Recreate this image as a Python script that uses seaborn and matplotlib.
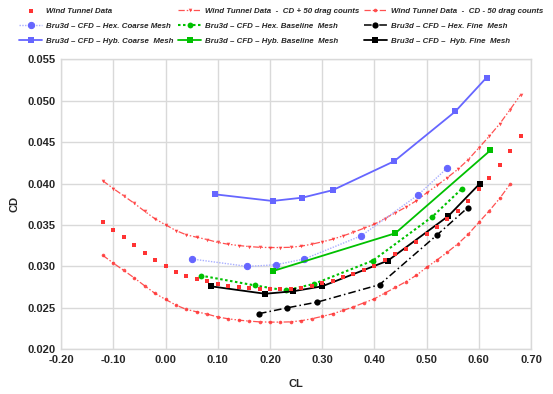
import matplotlib
matplotlib.use("Agg")
import matplotlib.pyplot as plt
import seaborn as sns
import pandas as pd
import numpy as np
from matplotlib.ticker import FormatStrFormatter

# ---------------- data ----------------
wt_cl = [-0.12, -0.10, -0.08, -0.06, -0.04, -0.02, 0.00, 0.02, 0.04, 0.06,
         0.08, 0.10, 0.12, 0.14, 0.16, 0.18, 0.20, 0.22, 0.24, 0.26,
         0.28, 0.30, 0.32, 0.34, 0.36, 0.38, 0.40, 0.42, 0.44, 0.46,
         0.48, 0.50, 0.52, 0.54, 0.56, 0.58, 0.60, 0.62, 0.64, 0.66, 0.68]
wt_cd = [0.03533, 0.03440, 0.03352, 0.03262, 0.03166, 0.03074, 0.03002, 0.02933, 0.02881, 0.02852,
         0.02824, 0.02790, 0.02768, 0.02752, 0.02740, 0.02731, 0.02728, 0.02728, 0.02731, 0.02745,
         0.02768, 0.02797, 0.02828, 0.02869, 0.02912, 0.02961, 0.03009, 0.03078, 0.03146, 0.03214,
         0.03291, 0.03388, 0.03478, 0.03573, 0.03673, 0.03790, 0.03931, 0.04071, 0.04221, 0.04393, 0.04571]
wt_plus_cd = [0.04033, 0.03940, 0.03852, 0.03762, 0.03666, 0.03574, 0.03502, 0.03433, 0.03381, 0.03352,
              0.03324, 0.03290, 0.03268, 0.03252, 0.03240, 0.03231, 0.03228, 0.03228, 0.03231, 0.03245,
              0.03268, 0.03297, 0.03328, 0.03369, 0.03412, 0.03461, 0.03509, 0.03578, 0.03646, 0.03714,
              0.03791, 0.03888, 0.03978, 0.04073, 0.04173, 0.04290, 0.04431, 0.04571, 0.04721, 0.04893, 0.05071]
wt_minus_cl = wt_cl[:40]
wt_minus_cd = [0.03133, 0.03040, 0.02952, 0.02862, 0.02766, 0.02674, 0.02602, 0.02533, 0.02481, 0.02452,
               0.02424, 0.02390, 0.02368, 0.02352, 0.02340, 0.02331, 0.02328, 0.02328, 0.02331, 0.02345,
               0.02368, 0.02397, 0.02428, 0.02469, 0.02512, 0.02561, 0.02609, 0.02678, 0.02746, 0.02814,
               0.02891, 0.02988, 0.03078, 0.03173, 0.03273, 0.03390, 0.03531, 0.03671, 0.03821, 0.03993]

hex_coarse_cl = [0.050, 0.157, 0.211, 0.266, 0.375, 0.483, 0.540]
hex_coarse_cd = [0.0309, 0.0300, 0.0302, 0.0309, 0.0337, 0.0386, 0.0419]
hyb_coarse_cl = [0.095, 0.205, 0.262, 0.320, 0.438, 0.555, 0.615]
hyb_coarse_cd = [0.0387, 0.0379, 0.0383, 0.0392, 0.0427, 0.0487, 0.0528]
hex_base_cl = [0.067, 0.172, 0.230, 0.285, 0.397, 0.511, 0.568]
hex_base_cd = [0.0289, 0.0277, 0.0271, 0.0279, 0.0307, 0.0360, 0.0394]
hyb_base_cl = [0.206, 0.440, 0.622]
hyb_base_cd = [0.02945, 0.0340, 0.0440]
hex_fine_cl = [0.179, 0.233, 0.291, 0.410, 0.520, 0.579]
hex_fine_cd = [0.0243, 0.0250, 0.0257, 0.0278, 0.0338, 0.0371]
hyb_fine_cl = [0.087, 0.191, 0.244, 0.300, 0.426, 0.542, 0.602]
hyb_fine_cd = [0.0276, 0.0267, 0.0270, 0.0276, 0.0307, 0.0361, 0.0400]

x_ticks = [-0.20, -0.10, 0.00, 0.10, 0.20, 0.30, 0.40, 0.50, 0.60, 0.70]
y_ticks = [0.020, 0.025, 0.030, 0.035, 0.040, 0.045, 0.050, 0.055]

labels = {
    "wt": "Wind Tunnel Data",
    "wtp": "Wind Tunnel Data  -  CD + 50 drag counts",
    "wtm": "Wind Tunnel Data  -  CD - 50 drag counts",
    "hexc": "Bru3d – CFD – Hex. Coarse Mesh",
    "hexb": "Bru3d – CFD – Hex. Baseline  Mesh",
    "hexf": "Bru3d – CFD – Hex. Fine  Mesh",
    "hybc": "Bru3d – CFD – Hyb. Coarse  Mesh",
    "hybb": "Bru3d – CFD – Hyb. Baseline  Mesh",
    "hybf": "Bru3d – CFD –  Hyb. Fine  Mesh",
}

# ---------------- style ----------------
sns.set_theme(style="white")
plt.rcParams["font.family"] = ["Liberation Sans", "DejaVu Sans"]

fig = plt.figure(figsize=(5.53, 3.94), dpi=100)
ax = fig.add_axes([0.1105, 0.1135, 0.8497, 0.736])

RED = "#ff3333"
BLUE = "#6666ff"
LBLUE = "#a8aeff"
GREEN = "#00c000"
BLACK = "#000000"
dashdotdot = (0, (5, 1.6, 1.2, 1.6, 1.2, 1.6))

sns.lineplot(x=wt_cl, y=wt_plus_cd, ax=ax, sort=False, color=RED, alpha=0.85,
             lw=0.9, linestyle=dashdotdot, marker="v", markersize=2.6, markeredgewidth=0,
             label=labels["wtp"])
sns.lineplot(x=wt_minus_cl, y=wt_minus_cd, ax=ax, sort=False, color=RED, alpha=0.85,
             lw=0.9, linestyle=dashdotdot, marker="o", markersize=2.6, markeredgewidth=0,
             label=labels["wtm"])
sns.scatterplot(x=wt_cl, y=wt_cd, ax=ax, color=RED, marker="s", s=11, linewidth=0,
                label=labels["wt"], zorder=3)

sns.lineplot(x=hex_coarse_cl, y=hex_coarse_cd, ax=ax, sort=False, color=LBLUE, lw=1.0,
             linestyle=(0, (1, 1)), marker="o", markersize=4.5, markerfacecolor=BLUE,
             markeredgecolor=BLUE, label=labels["hexc"])
sns.lineplot(x=hyb_coarse_cl, y=hyb_coarse_cd, ax=ax, sort=False, color=BLUE, lw=1.3,
             linestyle="-", marker="s", markersize=4.5, markeredgewidth=0, label=labels["hybc"])
sns.lineplot(x=hex_base_cl, y=hex_base_cd, ax=ax, sort=False, color=GREEN, lw=1.5,
             linestyle=(0, (1.2, 1.2)), marker="o", markersize=4.2, markeredgewidth=0,
             label=labels["hexb"])
sns.lineplot(x=hyb_base_cl, y=hyb_base_cd, ax=ax, sort=False, color=GREEN, lw=1.3,
             linestyle="-", marker="s", markersize=5, markeredgewidth=0, label=labels["hybb"])
sns.lineplot(x=hex_fine_cl, y=hex_fine_cd, ax=ax, sort=False, color=BLACK, lw=1.1,
             linestyle=(0, (5, 2, 1, 2)), marker="o", markersize=4.5, markeredgewidth=0,
             label=labels["hexf"])
sns.lineplot(x=hyb_fine_cl, y=hyb_fine_cd, ax=ax, sort=False, color=BLACK, lw=1.3,
             linestyle="-", marker="s", markersize=5, markeredgewidth=0, label=labels["hybf"])

# ---------------- axes ----------------
ax.set_xlim(-0.20, 0.70)
ax.set_ylim(0.020, 0.055)
ax.set_xticks(x_ticks)
ax.set_yticks(y_ticks)
ax.xaxis.set_major_formatter(FormatStrFormatter("%.2f"))
ax.yaxis.set_major_formatter(FormatStrFormatter("%.3f"))
ax.grid(True, color="#d9d9d9", lw=1.0)
ax.set_axisbelow(True)
for s in ax.spines.values():
    s.set_color("#d9d9d9")
    s.set_linewidth(1.0)
ax.tick_params(axis="both", which="major", length=3, width=1, color="#d9d9d9",
               labelsize=8, pad=1)
for t in ax.get_xticklabels() + ax.get_yticklabels():
    t.set_fontweight("bold")
ax.set_xlabel("CL", fontsize=8, fontweight="bold", labelpad=10)
ax.set_ylabel("CD", fontsize=8, fontweight="bold", labelpad=6)

# ---------------- legend ----------------
hs, ls = ax.get_legend_handles_labels()
lookup = dict(zip(ls, hs))
order = ["wt", "hexc", "hybc", "wtp", "hexb", "hybb", "wtm", "hexf", "hybf"]
ax.get_legend().remove()
leg = fig.legend([lookup[labels[k]] for k in order], [labels[k] for k in order],
                 ncol=3, loc="upper left", bbox_to_anchor=(0.028, 0.99),
                 frameon=False, prop={"family": ["Liberation Sans", "DejaVu Sans"],
                                      "weight": "bold", "style": "italic", "size": 5.7},
                 handlelength=3.0, handletextpad=0.4, columnspacing=0.6,
                 labelspacing=0.95, borderaxespad=0)

fig.savefig("out.png", dpi=100)
